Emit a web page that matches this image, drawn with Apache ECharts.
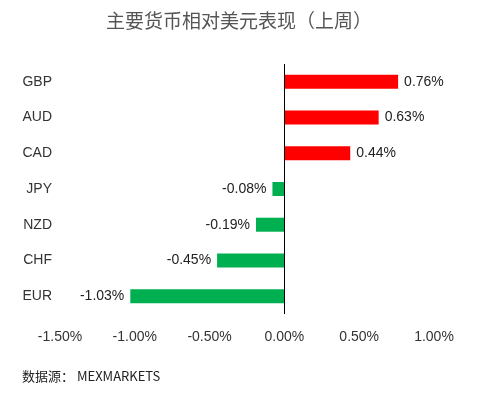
<!DOCTYPE html>
<html><head><meta charset="utf-8">
<script src="https://cdn.jsdelivr.net/npm/echarts@6/dist/echarts.min.js"></script>
<style>html,body{margin:0;background:#fff}#c{width:478px;height:406px}</style>
</head><body><div id="c"></div>
<script>
const currencies = ['GBP', 'AUD', 'CAD', 'JPY', 'NZD', 'CHF', 'EUR'];
const changes = [0.76, 0.63, 0.44, -0.08, -0.19, -0.45, -1.03];

const chart = echarts.init(document.getElementById('c'));
chart.setOption({
  animation: false,
  title: {
    text: '主要货币相对美元表现（上周）', left: 'center', top: 6,
    textStyle: { fontFamily: 'Noto Sans CJK SC', fontSize: 19, fontWeight: 'normal', color: '#555' }
  },
  graphic: [{
    type: 'text', left: 22, top: 370,
    style: { text: '数据源： MEXMARKETS', font: '13px "Noto Sans CJK SC"', fill: '#222' }
  }],
  grid: { left: 60, right: 44, top: 64, bottom: 92 },
  xAxis: {
    type: 'value', min: -1.5, max: 1.0, interval: 0.5,
    splitLine: { show: false }, axisLine: { show: false }, axisTick: { show: false },
    axisLabel: { formatter: v => v.toFixed(2) + '%', color: '#333', fontSize: 14, margin: 16 }
  },
  yAxis: {
    type: 'category', data: currencies, inverse: true,
    axisLine: { show: false }, axisTick: { show: false },
    axisLabel: { color: '#333', fontSize: 14, margin: 8 }
  },
  series: [{
    type: 'bar', barWidth: 14,
    data: changes.map(v => ({
      value: v,
      itemStyle: { color: v >= 0 ? '#ff0000' : '#00b050' },
      label: { position: v >= 0 ? 'right' : 'left' }
    })),
    label: { show: true, formatter: p => p.value.toFixed(2) + '%', color: '#222', fontSize: 14, distance: 6 },
    markLine: {
      silent: true, symbol: 'none', label: { show: false },
      lineStyle: { color: '#000', type: 'solid', width: 1 },
      data: [{ xAxis: 0 }]
    }
  }]
});
</script></body></html>
